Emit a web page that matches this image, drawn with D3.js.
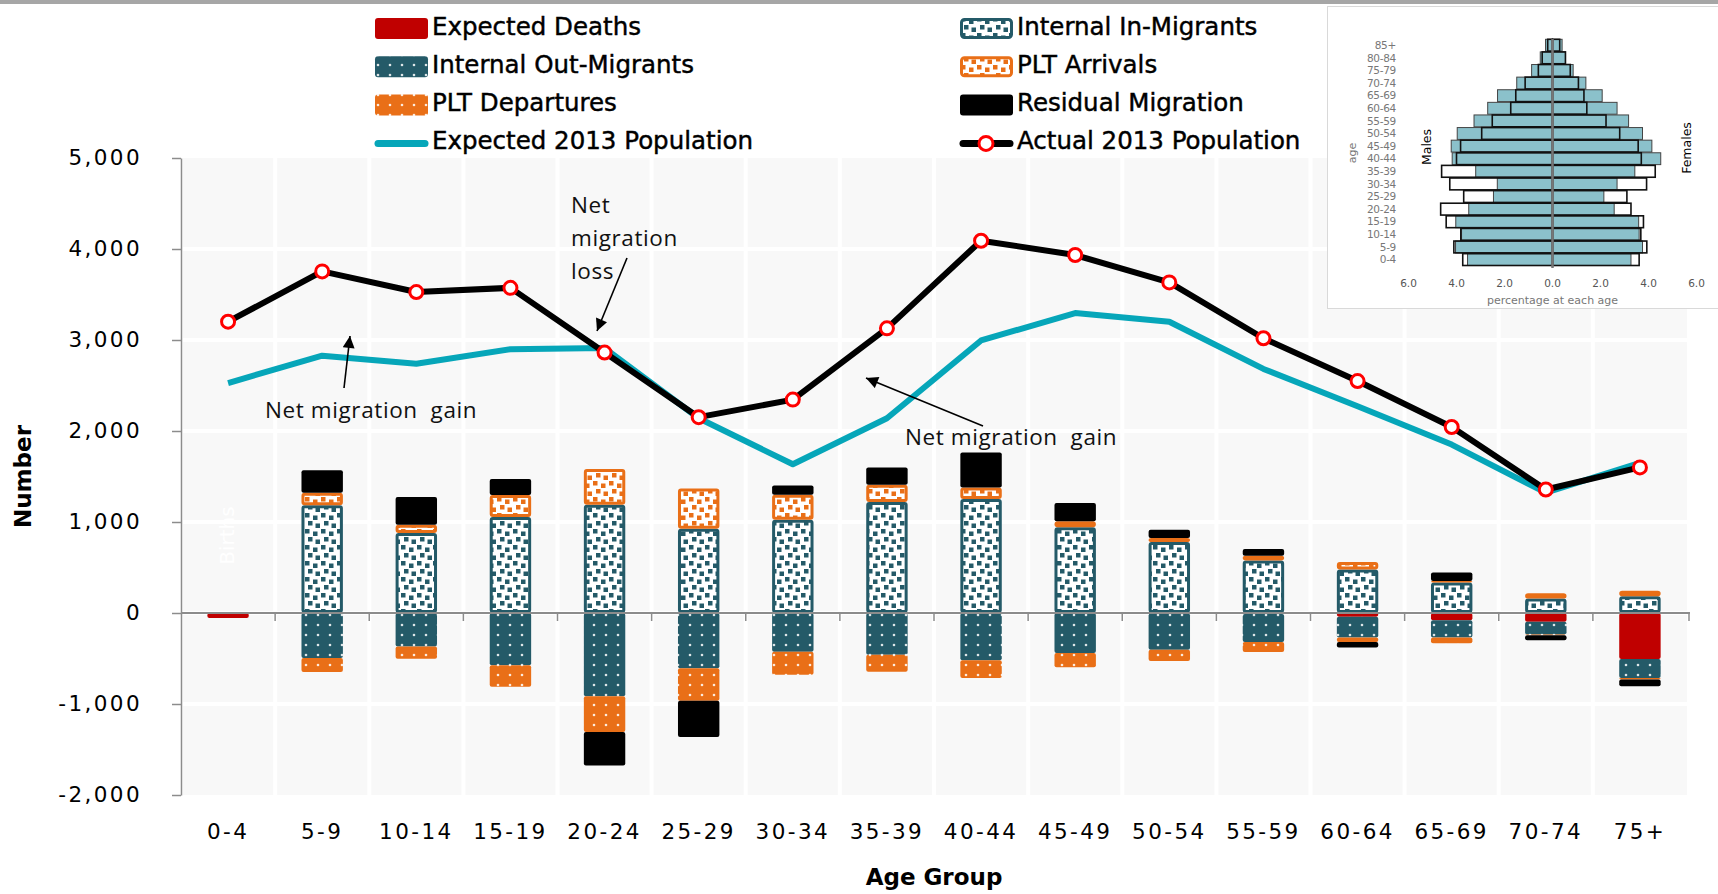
<!DOCTYPE html>
<html><head><meta charset="utf-8">
<script src="https://cdn.jsdelivr.net/npm/d3@7"></script>
<style>body{margin:0;background:#fff;} svg{display:block;} text{white-space:pre;}</style>
</head><body><svg id="c" width="1718" height="894"></svg>
<script>
// ---------- Main chart data ----------
const ageGroups = ["0-4","5-9","10-14","15-19","20-24","25-29","30-34","35-39","40-44","45-49","50-54","55-59","60-64","65-69","70-74","75+"];
const expectedDeaths   = [-55, 0, 0, 0, 0, 0, 0, 0, 0, 0, -5, -10, -40, -80, -95, -505];
const internalIn       = [0, 1183, 879, 1055, 1190, 927, 1025, 1220, 1253, 941, 780, 578, 478, 334, 158, 183];
const internalOut      = [0, -495, -367, -575, -916, -608, -425, -458, -520, -440, -398, -308, -230, -190, -140, -209];
const pltArrivals      = [0, 139, 91, 242, 392, 442, 275, 190, 127, 66, 44, 52, 82, 18, 58, 62];
const pltDepartures    = [0, -153, -135, -235, -392, -355, -253, -187, -195, -157, -125, -110, -48, -63, -10, -16];
const residual         = [0, 248, 305, 176, -367, -400, 102, 190, 385, 202, 91, 74, -62, 92, -55, -76];
const expectedPop2013  = [2527, 2828, 2740, 2899, 2911, 2140, 1634, 2140, 2995, 3296, 3200, 2682, 2272, 1851, 1322, 1650];
const actualPop2013    = [3201, 3754, 3527, 3573, 2862, 2152, 2345, 3128, 4091, 3934, 3633, 3019, 2549, 2044, 1357, 1600];
const yTicks = [-2000, -1000, 0, 1000, 2000, 3000, 4000, 5000];

// ---------- Inset pyramid data ----------
const insetAges = ["0-4","5-9","10-14","15-19","20-24","25-29","30-34","35-39","40-44","45-49","50-54","55-59","60-64","65-69","70-74","75-79","80-84","85+"];
const maleFilled     = [3.54, 4.04, 3.79, 4.03, 3.49, 2.46, 2.30, 3.20, 4.18, 4.22, 3.97, 3.27, 2.70, 2.29, 1.49, 0.87, 0.51, 0.29];
const maleOutline    = [3.74, 4.11, 3.82, 4.43, 4.66, 3.70, 4.28, 4.62, 4.00, 3.83, 2.95, 2.51, 1.74, 1.53, 1.14, 0.59, 0.43, 0.20];
const femaleFilled   = [3.27, 3.75, 3.61, 3.59, 2.57, 2.14, 2.69, 3.43, 4.51, 4.14, 3.75, 3.17, 2.69, 2.07, 1.39, 0.86, 0.54, 0.40];
const femaleOutline  = [3.61, 3.93, 3.68, 3.79, 3.27, 3.10, 3.92, 4.28, 3.70, 3.57, 2.80, 2.23, 1.43, 1.31, 1.08, 0.74, 0.54, 0.30];
const insetTicks = [-6, -4, -2, 0, 2, 4, 6];

// ---------- Styles ----------
const C = {teal:"#245a68", orange:"#e96f17", red:"#c00000", black:"#000", line:"#06a6b9", axis:"#8c8c8c", bg:"#f8f8f8", pyr:"#8bc1cb"};
const FONT = "'DejaVu Sans', Verdana, sans-serif";
const AFONT = "'Open Sans', sans-serif";

const svg = d3.select("#c");
svg.append("rect").attr("x",0).attr("y",0).attr("width",1718).attr("height",4).attr("fill","#a6a6a6");

// patterns
const defs = svg.append("defs");
function squaresPattern(id, col){
  const p = defs.append("pattern").attr("id",id).attr("patternUnits","userSpaceOnUse").attr("width",16).attr("height",16);
  p.append("rect").attr("width",16).attr("height",16).attr("fill","#fff");
  [[1,1],[9,3.5],[4,9],[11.5,11.5]].forEach(([x,y])=>p.append("rect").attr("x",x).attr("y",y).attr("width",4.5).attr("height",4.5).attr("fill",col));
}
function dotsPattern(id, col){
  const p = defs.append("pattern").attr("id",id).attr("patternUnits","userSpaceOnUse").attr("width",12).attr("height",10);
  p.append("rect").attr("width",12).attr("height",10).attr("fill",col);
  p.append("circle").attr("cx",6).attr("cy",5).attr("r",1.3).attr("fill","#fff").attr("opacity",0.85);
}
squaresPattern("pIn", C.teal);
squaresPattern("pArr", C.orange);
dotsPattern("pOut", C.teal);
dotsPattern("pDep", C.orange);
const mk = defs.append("marker").attr("id","arrow").attr("viewBox","0 0 10 10").attr("refX",10).attr("refY",5)
  .attr("markerWidth",14).attr("markerHeight",12).attr("markerUnits","userSpaceOnUse").attr("orient","auto");
mk.append("path").attr("d","M0,0L10,5L0,10Z").attr("fill","#000");

// scales
const x = d3.scaleBand().domain(ageGroups).range([181, 1687]);
const y = d3.scaleLinear().domain([-2000, 5000]).range([795, 158]);
const bw = x.bandwidth()*0.44;

// plot background cells
const g = svg.append("g");
g.append("rect").attr("x",183).attr("y",y(5000)).attr("width",1687-183).attr("height",y(-2000)-y(5000)).attr("fill",C.bg);
g.selectAll(".hg").data(yTicks.slice(1,-1)).join("line")
  .attr("x1",183).attr("x2",1687).attr("y1",d=>y(d)).attr("y2",d=>y(d)).attr("stroke","#fff").attr("stroke-width",4);
g.selectAll(".vg").data(ageGroups.slice(1)).join("line")
  .attr("x1",d=>x(d)).attr("x2",d=>x(d)).attr("y1",y(5000)).attr("y2",y(-2000)).attr("stroke","#fff").attr("stroke-width",4);

// Births label
g.append("text").attr("transform",`translate(${x("0-4")+x.bandwidth()/2+6},${y(850)}) rotate(-90)`)
  .attr("text-anchor","middle").attr("font-family",FONT).attr("font-size",20).attr("fill","#fff").text("Births");

// y axis
const yAxis = svg.append("g").attr("transform","translate(181,0)")
  .call(d3.axisLeft(y).tickValues(yTicks).tickSize(9).tickSizeOuter(0).tickPadding(30)
     .tickFormat(d=>d3.format(",")(d).replace("\u2212","-")));
yAxis.select(".domain").attr("stroke",C.axis).attr("stroke-width",1.5);
yAxis.selectAll(".tick line").attr("stroke",C.axis).attr("stroke-width",1.5);
yAxis.selectAll("text").attr("font-family",FONT).attr("font-size",21.5).attr("fill","#000").attr("letter-spacing",2.4);

// x labels
const xAxis = svg.append("g").attr("transform",`translate(0,${y(-2000)})`)
  .call(d3.axisBottom(x).tickSize(0).tickPadding(29));
xAxis.select(".domain").remove();
xAxis.selectAll("text").attr("font-family",FONT).attr("font-size",21.5).attr("fill","#000").attr("letter-spacing",2.4);

// stacked bars
const rows = ageGroups.map((a,i)=>({age:a, deaths:expectedDeaths[i], inMig:internalIn[i], outMig:internalOut[i],
   arr:pltArrivals[i], dep:pltDepartures[i], res:residual[i]}));
const keys = ["deaths","inMig","outMig","arr","dep","res"];
const stacked = d3.stack().keys(keys).offset(d3.stackOffsetDiverging)(rows);
const style = {
  deaths:{fill:C.red, stroke:null},
  inMig:{fill:"url(#pIn)", stroke:C.teal},
  outMig:{fill:"url(#pOut)", stroke:null},
  arr:{fill:"url(#pArr)", stroke:C.orange},
  dep:{fill:"url(#pDep)", stroke:null},
  res:{fill:C.black, stroke:null}
};
const barsG = svg.append("g");
stacked.forEach(s=>{
  const st = style[s.key];
  barsG.append("g").selectAll("rect").data(s.filter(d=>Math.abs(d[1]-d[0])>0)).join("rect")
    .each(function(d){
      const y0 = Math.min(y(d[0]),y(d[1])), h = Math.abs(y(d[0])-y(d[1]));
      const r = d3.select(this);
      const x0 = x(d.data.age)+(x.bandwidth()-bw)/2;
      if(st.stroke){
        const sw = Math.min(3, h);
        r.attr("x",x0+sw/2).attr("y",y0+sw/2).attr("width",bw-sw).attr("height",Math.max(h-sw,0.01))
         .attr("stroke",st.stroke).attr("stroke-width",sw).attr("rx",1.5);
      } else {
        r.attr("x",x0).attr("y",y0).attr("width",bw).attr("height",h).attr("rx",2);
      }
      r.attr("fill",st.fill);
    });
});

// x axis at zero
const zx = svg.append("g");
zx.append("line").attr("x1",181).attr("x2",1690).attr("y1",y(0)).attr("y2",y(0)).attr("stroke",C.axis).attr("stroke-width",2);
zx.selectAll(".t").data(ageGroups.slice(1).map(a=>x(a)).concat([x(ageGroups[ageGroups.length-1])+x.bandwidth()+2])).join("line")
  .attr("x1",d=>d).attr("x2",d=>d).attr("y1",y(0)).attr("y2",y(0)+8).attr("stroke",C.axis).attr("stroke-width",1.5);

// lines
const cx = d=>x(d)+x.bandwidth()/2;
const lineGen = d3.line().x((d,i)=>cx(ageGroups[i])).y(d=>y(d));
svg.append("path").attr("d",lineGen(expectedPop2013)).attr("fill","none").attr("stroke",C.line).attr("stroke-width",6).attr("stroke-linejoin","round");
svg.append("path").attr("d",lineGen(actualPop2013)).attr("fill","none").attr("stroke","#000").attr("stroke-width",6).attr("stroke-linejoin","round");
svg.append("g").selectAll("circle").data(actualPop2013).join("circle")
  .attr("cx",(d,i)=>cx(ageGroups[i])).attr("cy",d=>y(d)).attr("r",6.5).attr("fill","#fff").attr("stroke","#ff0000").attr("stroke-width",3);

// axis titles
svg.append("text").attr("transform",`translate(31,${(y(5000)+y(-2000))/2}) rotate(-90)`).attr("text-anchor","middle")
  .attr("font-family",FONT).attr("font-weight","bold").attr("font-size",23).text("Number");
svg.append("text").attr("x",(181+1687)/2).attr("y",885).attr("text-anchor","middle")
  .attr("font-family",FONT).attr("font-weight","bold").attr("font-size",23).text("Age Group");

// annotations
const ann = svg.append("g").attr("font-family",AFONT).attr("font-size",22.5).attr("letter-spacing",0.6).attr("fill","#111");
ann.append("text").attr("x",265).attr("y",418).text("Net migration  gain");
ann.append("line").attr("x1",344).attr("y1",388).attr("x2",350).attr("y2",336).attr("stroke","#000").attr("stroke-width",1.6).attr("marker-end","url(#arrow)");
ann.append("text").attr("x",571).attr("y",213).text("Net");
ann.append("text").attr("x",571).attr("y",246).text("migration");
ann.append("text").attr("x",571).attr("y",279).text("loss");
ann.append("line").attr("x1",627).attr("y1",258).attr("x2",597).attr("y2",331).attr("stroke","#000").attr("stroke-width",1.6).attr("marker-end","url(#arrow)");
ann.append("text").attr("x",905).attr("y",445).text("Net migration  gain");
ann.append("line").attr("x1",983).attr("y1",426).attr("x2",866).attr("y2",378).attr("stroke","#000").attr("stroke-width",1.6).attr("marker-end","url(#arrow)");

// legend
const legendItems = [
  {label:"Expected Deaths", type:"rect", fill:C.red, col:0, row:0},
  {label:"Internal Out-Migrants", type:"rect", fill:"url(#pOut)", col:0, row:1},
  {label:"PLT Departures", type:"rect", fill:"url(#pDep)", col:0, row:2},
  {label:"Expected 2013 Population", type:"line", stroke:C.line, col:0, row:3},
  {label:"Internal In-Migrants", type:"rect", fill:"url(#pIn)", stroke:C.teal, col:1, row:0},
  {label:"PLT Arrivals", type:"rect", fill:"url(#pArr)", stroke:C.orange, col:1, row:1},
  {label:"Residual Migration", type:"rect", fill:"#000", col:1, row:2},
  {label:"Actual 2013 Population", type:"marker", col:1, row:3}
];
const lg = svg.append("g");
legendItems.forEach(it=>{
  const sx = it.col===0 ? 375 : 960, cy = 28.5 + it.row*38.3;
  const gg = lg.append("g");
  if(it.type==="rect"){
    const r = gg.append("rect").attr("rx",3).attr("fill",it.fill);
    if(it.stroke) r.attr("x",sx+1.5).attr("y",cy-10.5+1.5).attr("width",50).attr("height",18).attr("stroke",it.stroke).attr("stroke-width",3);
    else r.attr("x",sx).attr("y",cy-10.5).attr("width",53).attr("height",21);
  } else if(it.type==="line"){
    gg.append("line").attr("x1",sx+3).attr("x2",sx+50).attr("y1",cy).attr("y2",cy).attr("stroke",it.stroke).attr("stroke-width",7).attr("stroke-linecap","round");
  } else {
    gg.append("line").attr("x1",sx+3).attr("x2",sx+50).attr("y1",cy).attr("y2",cy).attr("stroke","#000").attr("stroke-width",7).attr("stroke-linecap","round");
    gg.append("circle").attr("cx",sx+26).attr("cy",cy).attr("r",7).attr("fill","#fff").attr("stroke","#ff0000").attr("stroke-width",3);
  }
  gg.append("text").attr("x",sx+57).attr("y",cy+6).attr("font-family",FONT).attr("font-size",24.5)
    .attr("fill","#000").attr("stroke","#000").attr("stroke-width",0.45).text(it.label);
});

// ---------- Inset pyramid ----------
const ins = svg.append("g");
ins.append("rect").attr("x",1327.5).attr("y",6.5).attr("width",400).attr("height",302).attr("fill","#fff").attr("stroke","#d9d9d9");
const ix = d3.scaleLinear().domain([-6,6]).range([1408.5,1696.5]);
const iy = d3.scaleBand().domain(insetAges).range([265.5, 39.3]).paddingInner(0.06);
const barH = iy.bandwidth();
ins.append("g").selectAll("rect").data(insetAges).join("rect")
  .attr("x",(d,i)=>ix(-maleFilled[i])).attr("y",d=>iy(d)).attr("width",(d,i)=>ix(0)-ix(-maleFilled[i])).attr("height",barH)
  .attr("fill",C.pyr).attr("stroke","#444").attr("stroke-width",1);
ins.append("g").selectAll("rect").data(insetAges).join("rect")
  .attr("x",ix(0)).attr("y",d=>iy(d)).attr("width",(d,i)=>ix(femaleFilled[i])-ix(0)).attr("height",barH)
  .attr("fill",C.pyr).attr("stroke","#444").attr("stroke-width",1);
ins.append("g").selectAll("rect").data(insetAges).join("rect")
  .attr("x",(d,i)=>ix(-maleOutline[i])).attr("y",d=>iy(d)).attr("width",(d,i)=>ix(0)-ix(-maleOutline[i])).attr("height",barH)
  .attr("fill","none").attr("stroke","#111").attr("stroke-width",1.6);
ins.append("g").selectAll("rect").data(insetAges).join("rect")
  .attr("x",ix(0)).attr("y",d=>iy(d)).attr("width",(d,i)=>ix(femaleOutline[i])-ix(0)).attr("height",barH)
  .attr("fill","none").attr("stroke","#111").attr("stroke-width",1.6);
ins.append("line").attr("x1",ix(0)).attr("x2",ix(0)).attr("y1",39).attr("y2",268).attr("stroke","#777").attr("stroke-width",2.5);
ins.append("g").selectAll("text").data(insetAges).join("text")
  .attr("x",1396).attr("y",d=>iy(d)+barH/2).attr("dy","0.35em").attr("text-anchor","end")
  .attr("font-family",FONT).attr("font-size",10.5).attr("fill","#777").attr("letter-spacing",-0.3).text(d=>d);
ins.append("g").selectAll("text").data(insetTicks).join("text")
  .attr("x",d=>ix(d)).attr("y",283).attr("dy","0.35em").attr("text-anchor","middle")
  .attr("font-family",FONT).attr("font-size",10.5).attr("fill","#555").text(d=>Math.abs(d).toFixed(1));
ins.append("text").attr("x",ix(0)).attr("y",300).attr("dy","0.35em").attr("text-anchor","middle")
  .attr("font-family",FONT).attr("font-size",11).attr("fill","#777").text("percentage at each age");
ins.append("text").attr("transform","translate(1352,153) rotate(-90)").attr("dy","0.35em").attr("text-anchor","middle")
  .attr("font-family",FONT).attr("font-size",11).attr("fill","#777").text("age");
ins.append("text").attr("transform","translate(1427,147) rotate(-90)").attr("dy","0.35em").attr("text-anchor","middle")
  .attr("font-family",FONT).attr("font-size",12.5).attr("fill","#000").text("Males");
ins.append("text").attr("transform","translate(1687,148) rotate(-90)").attr("dy","0.35em").attr("text-anchor","middle")
  .attr("font-family",FONT).attr("font-size",12.5).attr("fill","#000").text("Females");
</script></body></html>
